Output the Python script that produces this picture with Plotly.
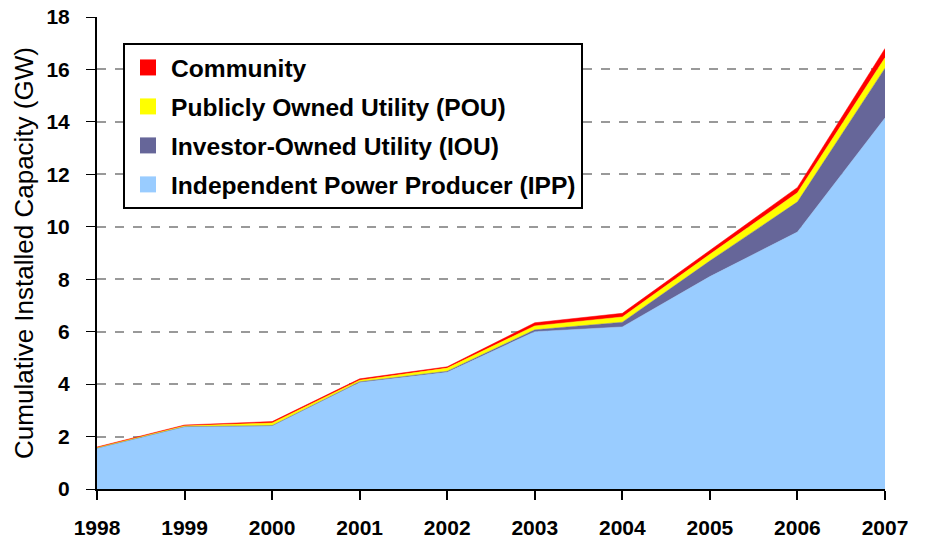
import plotly.graph_objects as go

years = [1998, 1999, 2000, 2001, 2002, 2003, 2004, 2005, 2006, 2007]
ipp = [1.55, 2.37, 2.40, 4.06, 4.45, 6.00, 6.18, 8.10, 9.80, 14.15]
iou = [0.01, 0.01, 0.02, 0.03, 0.04, 0.07, 0.18, 0.60, 1.15, 1.90]
pou = [0.02, 0.03, 0.10, 0.06, 0.12, 0.15, 0.20, 0.25, 0.35, 0.40]
community = [0.02, 0.03, 0.05, 0.05, 0.05, 0.12, 0.14, 0.15, 0.20, 0.35]

series = [
    ("Independent Power Producer (IPP)", ipp, "#99CCFF"),
    ("Investor-Owned Utility (IOU)", iou, "#666699"),
    ("Publicly Owned Utility (POU)", pou, "#FFFF00"),
    ("Community", community, "#FF0000"),
]

FONT = "Liberation Sans, Arial, sans-serif"

fig = go.Figure()
for name, vals, col in series:
    fig.add_trace(go.Scatter(
        x=years, y=vals, name=name, mode="lines",
        stackgroup="one", line=dict(width=0.5, color=col),
        fillcolor=col, showlegend=False, hoverinfo="skip",
    ))
# legend entries with square swatches (top of stack listed first)
for i, (name, vals, col) in enumerate(reversed(series)):
    fig.add_trace(go.Scatter(
        x=[None], y=[None], name=name, mode="markers",
        marker=dict(symbol="square", size=17, color=col),
        legendgroup=f"g{i}", showlegend=True,
    ))

fig.update_layout(
    width=925, height=542,
    margin=dict(l=97, r=40, t=17, b=53),
    paper_bgcolor="white", plot_bgcolor="white",
    font=dict(family=FONT, color="black"),
    showlegend=True,
    legend=dict(
        x=0.033, y=0.945, xanchor="left", yanchor="top",
        traceorder="grouped", tracegroupgap=4,
        bgcolor="white", bordercolor="black", borderwidth=2,
        font=dict(family=FONT, size=24.6, color="black", weight="bold"),
        itemwidth=36,
    ),
    xaxis=dict(
        range=[1998, 2007], tickmode="array", tickvals=years,
        ticktext=[str(y) for y in years],
        showline=True, linecolor="black", linewidth=2,
        ticks="outside", ticklen=9, tickcolor="black", tickwidth=2,
        ticklabelstandoff=10, automargin=False,
        tickfont=dict(family=FONT, size=21, color="black", weight="bold"),
        showgrid=False, zeroline=False,
    ),
    yaxis=dict(
        range=[0, 18], tickmode="linear", tick0=0, dtick=2,
        showline=True, linecolor="black", linewidth=2,
        ticks="outside", ticklen=9, tickcolor="black", tickwidth=1,
        ticklabelstandoff=12, automargin=False,
        tickfont=dict(family=FONT, size=21, color="black", weight="bold"),
        showgrid=True, gridcolor="#999999", griddash="dash", gridwidth=1.5,
        zeroline=False,
        title=dict(text="Cumulative Installed Capacity (GW)",
                   font=dict(family=FONT, size=26, color="black"), standoff=5),
    ),
)

fig.write_html(
    "out.html",
    config={"displayModeBar": False},
    post_script="document.body.style.margin='0px';document.body.style.overflow='hidden';",
)
